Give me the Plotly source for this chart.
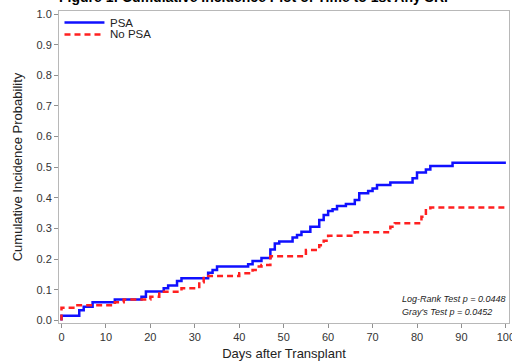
import plotly.graph_objects as go

# PSA group (cumulative incidence step function)
psa_days = [0, 0, 4, 5, 7, 12, 18, 19, 23, 24, 26, 27, 33, 34, 35, 42, 43, 45, 47, 48, 49,
            52, 53, 54, 56, 58, 59, 60, 61, 62, 64, 66, 67, 69, 70, 71, 74, 79, 80, 82, 83, 88, 100]
psa_cif = [0, 0.016, 0.034, 0.045, 0.060, 0.069, 0.078, 0.095, 0.105, 0.114, 0.129, 0.138, 0.156,
           0.165, 0.176, 0.184, 0.194, 0.204, 0.232, 0.251, 0.258, 0.271, 0.279, 0.290, 0.306,
           0.328, 0.344, 0.357, 0.363, 0.374, 0.380, 0.393, 0.415, 0.423, 0.431, 0.442, 0.450,
           0.464, 0.483, 0.493, 0.504, 0.515, 0.515]

# No PSA group
nopsa_days = [0, 0, 3, 12, 14, 20, 22, 27, 31, 32, 40, 43, 44, 45, 47, 55, 58, 59, 60, 66,
              74, 75, 81, 82, 83, 100]
nopsa_cif = [0, 0.042, 0.050, 0.060, 0.069, 0.078, 0.094, 0.105, 0.125, 0.145, 0.154, 0.165,
             0.176, 0.181, 0.210, 0.230, 0.246, 0.260, 0.277, 0.288, 0.306, 0.317, 0.339,
             0.360, 0.369, 0.369]

x_ticks = [0, 10, 20, 30, 40, 50, 60, 70, 80, 90, 100]
y_ticks = [0.0, 0.1, 0.2, 0.3, 0.4, 0.5, 0.6, 0.7, 0.8, 0.9, 1.0]

series_names = ["PSA", "No PSA"]
title_text = "Figure 1: Cumulative Incidence Plot of Time to 1st Any SRI"
stats_lines = ["Log-Rank Test <i>p</i> = 0.0448", "Gray's Test <i>p</i> = 0.0452"]

FONT = "Liberation Sans, Arial, sans-serif"
BLUE = "#1010ff"
RED = "#ff2020"
DASH = "6px,4px"

fig = go.Figure()
fig.add_trace(go.Scatter(x=psa_days, y=psa_cif, mode="lines", name=series_names[0],
                         line=dict(shape="hv", color=BLUE, width=2.5)))
fig.add_trace(go.Scatter(x=nopsa_days, y=nopsa_cif, mode="lines", name=series_names[1],
                         line=dict(shape="hv", color=RED, width=2.5, dash=DASH)))

axis_common = dict(showline=True, linecolor="#b8b8b8", linewidth=1, mirror=True,
                   showgrid=False, zeroline=False, ticks="outside", ticklen=4,
                   tickcolor="#909090", ticklabeloverflow="allow", automargin=False,
                   tickfont=dict(size=11, color="#333333", family=FONT))

fig.update_xaxes(range=[-0.56, 100.7], tickvals=x_ticks,
                 title=dict(text="Days after Transplant", font=dict(size=13, color="#222", family=FONT),
                            standoff=6),
                 **axis_common)
fig.update_yaxes(range=[-0.008, 1.0098], tickvals=y_ticks, tickformat=".1f",
                 title=dict(text="Cumulative Incidence Probability", font=dict(size=13, color="#222", family=FONT),
                            standoff=10),
                 **axis_common)

# title (partly above the page, as in the reference)
fig.add_annotation(text="<b>" + title_text + "</b>", xref="paper", yref="paper",
                   x=0.432, y=1.045, xanchor="center", yanchor="middle", showarrow=False,
                   font=dict(size=14, color="#000", family=FONT))

# statistics
fig.add_annotation(text="<i>" + stats_lines[0] + "</i>", xref="paper", yref="paper",
                   x=0.758, y=0.077, xanchor="left", yanchor="middle", showarrow=False,
                   font=dict(size=9, color="#222", family=FONT))
fig.add_annotation(text="<i>" + stats_lines[1] + "</i>", xref="paper", yref="paper",
                   x=0.758, y=0.036, xanchor="left", yanchor="middle", showarrow=False,
                   font=dict(size=9, color="#222", family=FONT))

# compact legend drawn in paper coordinates
legend_rows = [(0.9631, BLUE, "solid", series_names[0]), (0.9247, RED, DASH, series_names[1])]
for ypos, col, dsh, label in legend_rows:
    fig.add_shape(type="line", xref="paper", yref="paper", x0=0.0122, x1=0.101, y0=ypos, y1=ypos,
                  line=dict(color=col, width=2.5, dash=dsh))
    fig.add_annotation(text=label, xref="paper", yref="paper", x=0.109, y=ypos,
                       xanchor="left", yanchor="middle", showarrow=False,
                       font=dict(size=11.5, color="#222", family=FONT))

fig.update_layout(width=512, height=362, margin=dict(l=58.5, r=3, t=11, b=39),
                  plot_bgcolor="white", paper_bgcolor="white",
                  font=dict(family=FONT), showlegend=False)

fig.write_html("out.html")
